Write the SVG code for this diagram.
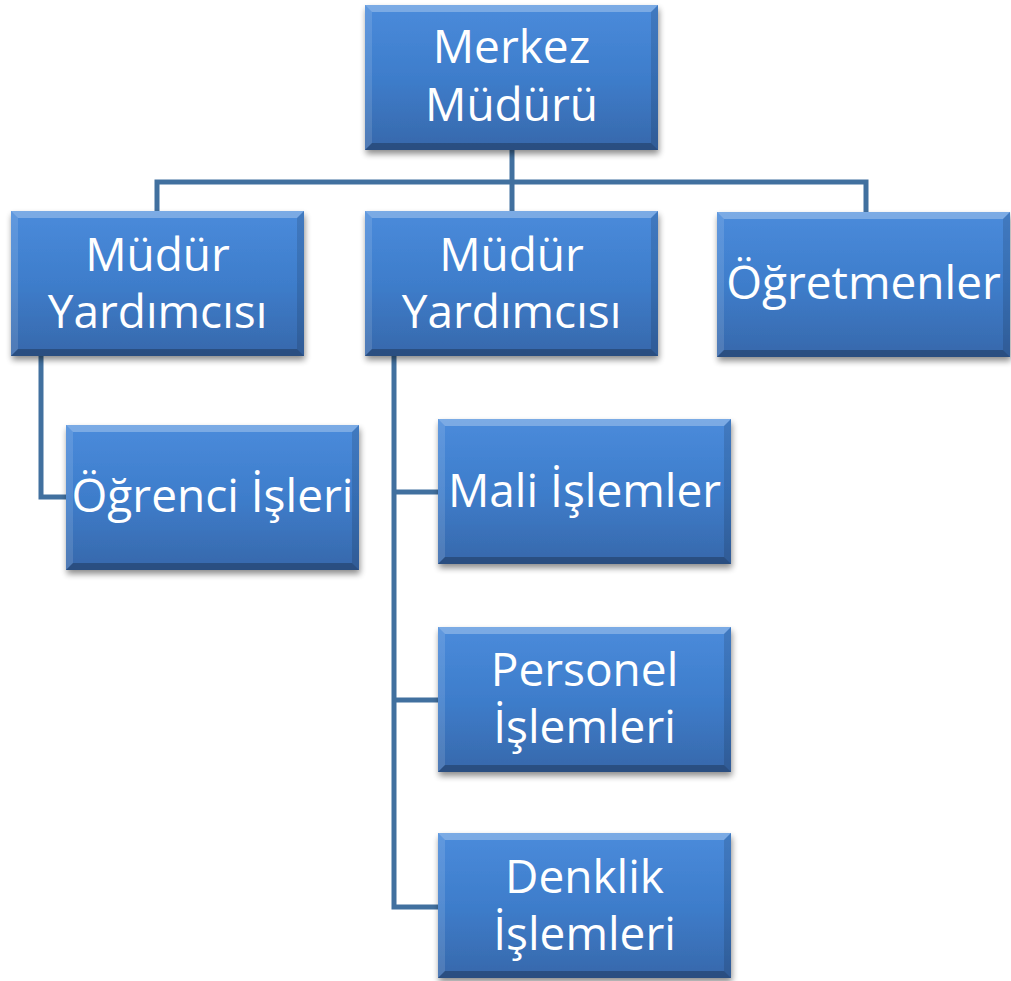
<svg xmlns="http://www.w3.org/2000/svg" xmlns:xlink="http://www.w3.org/1999/xlink" width="1011" height="981" viewBox="0 0 1011 981">
<style>
.lbl{font-family:"Open Sans","Noto Sans","DejaVu Sans",sans-serif;font-size:46px;fill:#ffffff;text-anchor:middle}
.conn{fill:none;stroke:#41709f;stroke-width:5;stroke-linejoin:miter}
</style>
<defs>
<linearGradient id="fillg" x1="0" y1="0" x2="0" y2="1">
<stop offset="0" stop-color="#4a8bdb"/>
<stop offset="0.5" stop-color="#3e7dcb"/>
<stop offset="1" stop-color="#3768ab"/>
</linearGradient>
<filter id="sh" x="-10%" y="-10%" width="125%" height="130%">
<feGaussianBlur in="SourceAlpha" stdDeviation="3"/>
<feOffset dx="1" dy="4" result="b"/>
<feComponentTransfer><feFuncA type="linear" slope="0.45"/></feComponentTransfer>
<feMerge><feMergeNode/><feMergeNode in="SourceGraphic"/></feMerge>
</filter>
<g id="box">
<rect x="0" y="0" width="293" height="145" fill="url(#fillg)" filter="url(#sh)"/>
<polygon points="0,0 293,0 286,7 7,7" fill="#ffffff" fill-opacity="0.28"/>
<polygon points="0,0 7,7 7,138 0,145" fill="#ffffff" fill-opacity="0.12"/>
<polygon points="293,0 293,145 286,138 286,7" fill="#000000" fill-opacity="0.12"/>
<polygon points="0,145 7,138 286,138 293,145" fill="#000000" fill-opacity="0.25"/>
</g>
</defs>
<rect width="1011" height="981" fill="#ffffff"/>
<g id="connectors">
<path class="conn" d="M512,150 V182 M157,211 V182 H866 V212 M512,182 V211"/>
<path class="conn" d="M41,356 V497 H66"/>
<path class="conn" d="M394,356 V907 H438 M394,492 H438 M394,700 H438"/>
</g>
<g id="merkez">
<use xlink:href="#box" x="365" y="5"/>
<text class="lbl" x="511.5" y="63">Merkez</text>
<text class="lbl" x="511.5" y="121">Müdürü</text>
</g>
<g id="yardimci1">
<use xlink:href="#box" x="11" y="211"/>
<text class="lbl" x="157.5" y="271">Müdür</text>
<text class="lbl" x="157.5" y="328">Yardımcısı</text>
</g>
<g id="yardimci2">
<use xlink:href="#box" x="365" y="211"/>
<text class="lbl" x="511.5" y="271">Müdür</text>
<text class="lbl" x="511.5" y="328">Yardımcısı</text>
</g>
<g id="ogretmenler">
<use xlink:href="#box" x="717" y="212"/>
<text class="lbl" x="863.5" y="299">Öğretmenler</text>
</g>
<g id="ogrenci">
<use xlink:href="#box" x="66" y="425"/>
<text class="lbl" x="212.5" y="512">Öğrenci İşleri</text>
</g>
<g id="mali">
<use xlink:href="#box" x="438" y="419"/>
<text class="lbl" x="584.5" y="507">Mali İşlemler</text>
</g>
<g id="personel">
<use xlink:href="#box" x="438" y="627"/>
<text class="lbl" x="584.5" y="686">Personel</text>
<text class="lbl" x="584.5" y="743">İşlemleri</text>
</g>
<g id="denklik">
<use xlink:href="#box" x="438" y="833"/>
<text class="lbl" x="584.5" y="893">Denklik</text>
<text class="lbl" x="584.5" y="950">İşlemleri</text>
</g>
</svg>
